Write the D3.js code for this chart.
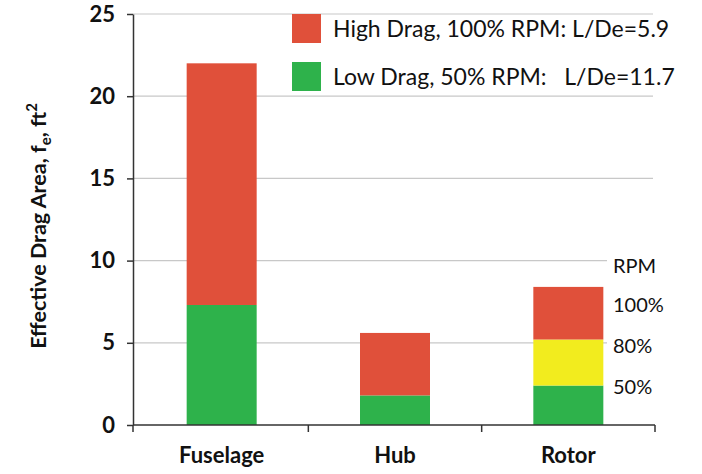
<!DOCTYPE html>
<html><head><meta charset="utf-8">
<script src="https://cdn.jsdelivr.net/npm/d3@7"></script>
<style>body{margin:0;background:#fff}svg{display:block}text{font-family:Lato,"Open Sans",sans-serif}</style>
</head><body><svg id="c" width="702" height="474"></svg>
<script>
const categories = ["Fuselage", "Hub", "Rotor"];
const lowDrag = [7.3, 1.8, 2.4];      // 50% RPM segment
const midDrag = [0, 0, 2.8];          // 80% RPM segment (rotor only)
const highDrag = [14.7, 3.8, 3.2];    // 100% RPM segment
const yTicks = [0, 5, 10, 15, 20, 25];
const legendLabels = ["High Drag, 100% RPM: L/De=5.9", "Low Drag, 50% RPM:   L/De=11.7"];
const rpmLabels = ["RPM", "100%", "80%", "50%"];
const colors = {high: "#E0503A", mid: "#F2EC1E", low: "#2EB24B"};

const svg = d3.select("#c");
const x = d3.scaleBand().domain(categories).range([135, 655]).padding(0);
const y = d3.scaleLinear().domain([0, 25]).range([425, 14]);

// gridlines
svg.append("g").selectAll("line").data(yTicks.filter(d => d > 0)).join("line")
  .attr("x1", 133).attr("x2", 653).attr("y1", d => y(d)).attr("y2", d => y(d))
  .attr("stroke", "#c8c8c8").attr("stroke-width", 1.2);

// bars
const barW = 70;
const rows = categories.map((c, i) => ({c, low: lowDrag[i], mid: midDrag[i], high: highDrag[i]}));
const stack = d3.stack().keys(["low", "mid", "high"])(rows);
svg.append("g").selectAll("g").data(stack).join("g")
  .attr("fill", d => colors[d.key])
  .selectAll("rect").data(d => d.filter(s => s[1] - s[0] > 0)).join("rect")
  .attr("x", d => x(d.data.c) + x.bandwidth() / 2 - barW / 2)
  .attr("width", barW)
  .attr("y", d => y(d[1]))
  .attr("height", d => y(d[0]) - y(d[1]));

// white boxes behind RPM labels over gridlines
const rpmY = [266, 305, 346, 387];
const rg = svg.append("g");
rpmLabels.forEach((t, i) => {
  rg.append("rect").attr("x", 607).attr("y", rpmY[i] - 13).attr("width", 55).attr("height", 24).attr("fill", "#fff");
  rg.append("text").attr("x", 613).attr("y", rpmY[i]).attr("dy", "0.35em")
    .attr("font-size", 20).attr("fill", "#111").text(t);
});

// y axis
const ya = svg.append("g").attr("transform", "translate(133,0)")
  .call(d3.axisLeft(y).tickValues(yTicks).tickSize(6).tickPadding(12).tickSizeOuter(0));
ya.select(".domain").attr("stroke", "#333").attr("stroke-width", 1.5);
ya.selectAll(".tick line").attr("stroke", "#333").attr("stroke-width", 1.5);
ya.selectAll(".tick text").attr("font-size", 22).attr("font-weight", "bold").attr("fill", "#111")
  .style("font-family", "Lato, sans-serif");

// x axis
const xa = svg.append("g").attr("transform", "translate(0,425)")
  .call(d3.axisBottom(x).tickSize(0).tickPadding(22));
xa.select(".domain").remove();
xa.selectAll(".tick text").attr("font-size", 22).attr("font-weight", "bold").attr("fill", "#111")
  .style("font-family", "Lato, sans-serif");
svg.append("line").attr("x1", 133).attr("x2", 655).attr("y1", 425).attr("y2", 425)
  .attr("stroke", "#333").attr("stroke-width", 1.5);
const bounds = [133, ...categories.map(c => x(c) + x.bandwidth())];
svg.append("g").selectAll("line").data(bounds).join("line")
  .attr("x1", d => d).attr("x2", d => d).attr("y1", 425).attr("y2", 432)
  .attr("stroke", "#333").attr("stroke-width", 1.5);

// y label
const yl = svg.append("text").attr("transform", "translate(38,226) rotate(-90)")
  .attr("text-anchor", "middle").attr("dy", "0.35em")
  .attr("font-size", 21.5).attr("font-weight", "bold").attr("fill", "#111");
yl.append("tspan").text("Effective Drag Area, f");
yl.append("tspan").attr("font-size", 15).attr("dy", 5).text("e");
yl.append("tspan").attr("dy", -5).text(", ft");
yl.append("tspan").attr("font-size", 15).attr("dy", -9).text("2");

// legend
const lg = svg.append("g");
[colors.high, colors.low].forEach((col, i) => {
  lg.append("rect").attr("x", 292).attr("y", 14 + i * 48).attr("width", 29).attr("height", 29).attr("fill", col);
  lg.append("text").attr("x", 333).attr("y", 29 + i * 48).attr("dy", "0.35em")
    .attr("font-size", 23).attr("fill", "#111").style("white-space", "pre").text(legendLabels[i]);
});
</script></body></html>
